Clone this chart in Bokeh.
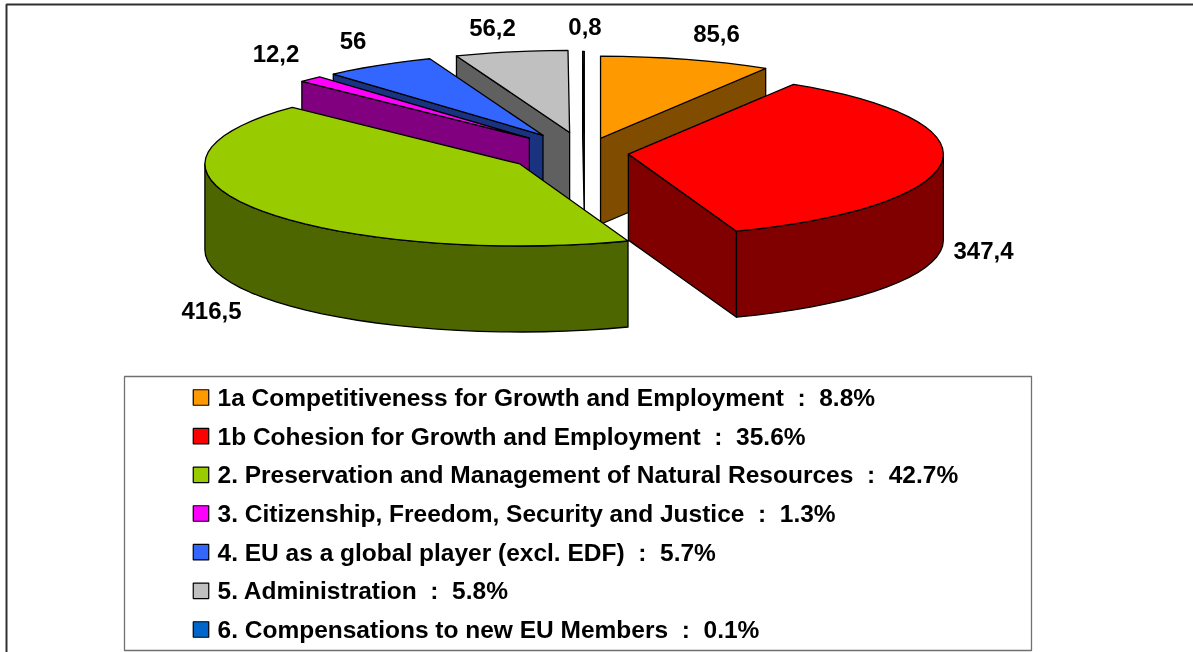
from math import sin, cos, radians
from bokeh.plotting import figure
from bokeh.models import Range1d
from bokeh.core.properties import value
from bokeh.embed import file_html
from bokeh.resources import INLINE

names = ["1a Competitiveness for Growth and Employment", "1b Cohesion for Growth and Employment",
         "2. Preservation and Management of Natural Resources", "3. Citizenship, Freedom, Security and Justice",
         "4. EU as a global player (excl. EDF)", "5. Administration", "6. Compensations to new EU Members"]
amounts = [85.6, 347.4, 416.5, 12.2, 56, 56.2, 0.8]
amount_labels = ["85,6", "347,4", "416,5", "12,2", "56", "56,2", "0,8"]
shares = ["8.8%", "35.6%", "42.7%", "1.3%", "5.7%", "5.8%", "0.1%"]
colors = ["#FF9900", "#FF0000", "#99CC00", "#FF00FF", "#3366FF", "#C0C0C0", "#0066CC"]
darks = ["#804D00", "#800000", "#4D6600", "#800080", "#1A3380", "#606060", "#003366"]
explode = [0.187, 0.14, 0.245, 0.252, 0.253, 0.255, 0.24]
label_xy = [(716, 33), (983, 250), (211, 310), (275.5, 53), (352.5, 40), (492, 27), (584.5, 26)]

W, H = 1193, 652
CX, CY, RX, RY, DEPTH = 584, 152.5, 315, 82, 86
FONT = "Liberation Sans"
NBSP = "\u00a0"

p = figure(width=W, height=H, output_backend="svg", toolbar_location=None,
           x_range=Range1d(0, W), y_range=Range1d(H, 0), min_border=0, outline_line_color=None)
p.axis.visible = False
p.grid.visible = False
p.styles = {"position": "fixed", "left": "0px", "top": "0px"}

total = sum(amounts)
spans, a = [], 0.0
for v in amounts:
    spans.append((a, a + v / total * 360))
    a = spans[-1][1]


def pt(ax, ay, deg, dz=0):
    t = radians(deg)
    return ax + RX * sin(t), ay - RY * cos(t) + dz


def arc(ax, ay, d0, d1, dz=0):
    n = max(2, int((d1 - d0) / 4) + 2)
    return [pt(ax, ay, d0 + (d1 - d0) * k / (n - 1), dz) for k in range(n)]


def poly(points, fill):
    p.patch([q[0] for q in points], [q[1] for q in points], fill_color=fill, line_color="black",
            line_width=1.3, line_join="round")


# frame: open to the right and below, its edges lie outside the page
p.quad(left=[6], right=[1210], top=[4], bottom=[670], fill_color="white", line_color="#303030", line_width=2)

# back-to-front painting order
for i in [6, 5, 0, 4, 3, 1, 2]:
    d0, d1 = spans[i]
    mid = (d0 + d1) / 2
    ax = CX + explode[i] * RX * sin(radians(mid))
    ay = CY - explode[i] * RY * cos(radians(mid))
    if sin(radians(d0)) < -0.001:
        o = pt(ax, ay, d0)
        poly([(ax, ay), o, (o[0], o[1] + DEPTH), (ax, ay + DEPTH)], darks[i])
    if sin(radians(d1)) > 0.001:
        o = pt(ax, ay, d1)
        poly([(ax, ay), o, (o[0], o[1] + DEPTH), (ax, ay + DEPTH)], darks[i])
    w0, w1 = max(d0, 90), min(d1, 270)
    if w1 > w0:
        poly(arc(ax, ay, w0, w1) + arc(ax, ay, w0, w1, DEPTH)[::-1], darks[i])
    poly([(ax, ay)] + arc(ax, ay, d0, d1), colors[i])

# data labels
p.text([q[0] for q in label_xy], [q[1] for q in label_xy], text=amount_labels, text_font=value(FONT),
       text_font_style="bold", text_font_size="24px", text_align="center", text_baseline="middle",
       text_color="#000000")

# legend
p.quad(left=[124], right=[1031], top=[376], bottom=[650], fill_color="white", line_color="#707070", line_width=1.3)
rows = [397 + 38.67 * k for k in range(len(names))]
p.rect([200.5] * len(rows), rows, width=15.5, height=15.5, fill_color=colors, line_color="black", line_width=1.2)
p.text([217] * len(rows), rows,
       text=[f"{n}{NBSP}{NBSP}:{NBSP}{NBSP}{s}" for n, s in zip(names, shares)], text_font=value(FONT),
       text_font_style="bold", text_font_size="24.5px", text_align="left", text_baseline="middle",
       text_color="#000000")

open("out.html", "w").write(file_html(p, INLINE))
